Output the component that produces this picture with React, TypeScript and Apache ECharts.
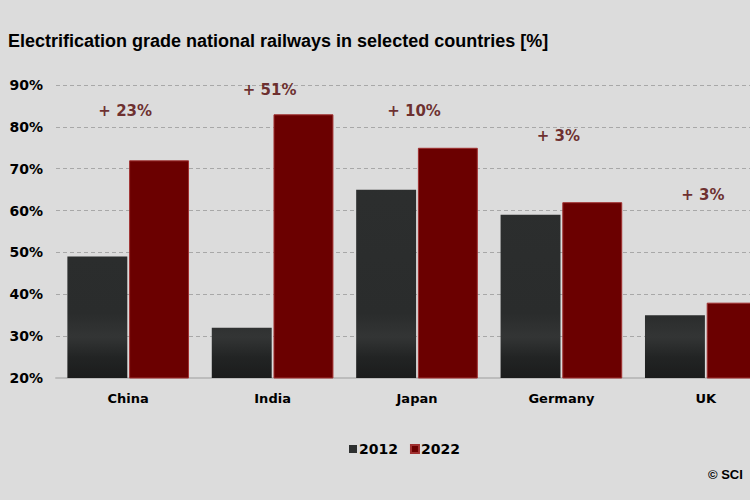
import React, { useEffect, useRef } from "react";
import * as echarts from "echarts";

// Share of electrified national railway network, percent
const countries = ["China", "India", "Japan", "Germany", "UK"];
const share2012 = [49, 32, 65, 59, 35];
const share2022 = [72, 83, 75, 62, 38];
// Height (in % units) at which each change annotation sits
const annotationLevel = [84, 89, 84, 78, 64];
const yTicks = [20, 30, 40, 50, 60, 70, 80, 90];

const TITLE_FONT = "'Liberation Sans', Arial, Helvetica, sans-serif";
const FONT = "'DejaVu Sans', Verdana, sans-serif";

export default function App() {
  const ref = useRef<HTMLDivElement>(null);

  useEffect(() => {
    if (!ref.current) return;
    const chart = echarts.init(ref.current, null, { renderer: "svg" });

    // Shared vertical shading for the 2012 columns (absolute to the plot area)
    const darkFill = new echarts.graphic.LinearGradient(
      0, 85, 0, 378,
      [
        { offset: 0, color: "#2e3030" },
        { offset: 0.78, color: "#2a2c2c" },
        { offset: 0.86, color: "#333535" },
        { offset: 0.93, color: "#222424" },
        { offset: 1, color: "#1b1c1c" },
      ],
      true
    );

    chart.setOption({
      animation: false,
      backgroundColor: "#dcdcdc",
      textStyle: { fontFamily: FONT },
      title: {
        text: "Electrification grade national railways in selected countries [%]",
        left: 3,
        top: 27,
        textStyle: { fontFamily: TITLE_FONT, fontSize: 18, fontWeight: "bold", color: "#000" },
      },
      // The last category runs past the right edge of the canvas
      grid: { left: 56, width: 722, top: 85, bottom: 122, outerBoundsMode: "none", containLabel: false },
      legend: {
        data: ["2012", "2022"],
        left: 344,
        top: 437,
        icon: "rect",
        itemWidth: 8,
        itemHeight: 8,
        itemGap: 12,
        textStyle: { fontFamily: FONT, fontSize: 14, fontWeight: "bold", color: "#000", padding: [0, 0, 0, -3] },
      },
      xAxis: {
        type: "category",
        data: countries,
        axisTick: { show: false },
        axisLine: { show: true, lineStyle: { color: "#bcbcbc", width: 2 } },
        axisLabel: { fontFamily: FONT, fontSize: 13, fontWeight: "bold", color: "#000", margin: 14 },
      },
      yAxis: {
        type: "value",
        min: yTicks[0],
        max: yTicks[yTicks.length - 1],
        interval: 10,
        axisLine: { show: false },
        axisTick: { show: false },
        axisLabel: {
          fontFamily: FONT,
          fontSize: 14,
          fontWeight: "bold",
          color: "#000",
          margin: 13,
          formatter: (v: number) => `${v}%`,
        },
        splitLine: {
          show: true,
          lineStyle: { color: "#a8a8a8", type: [4, 3], width: 1 },
        },
      },
      series: [
        {
          name: "2012",
          type: "bar",
          data: share2012,
          barWidth: "41.5%",
          barGap: "3%",
          itemStyle: { color: darkFill },
          z: 3,
        },
        {
          name: "2022",
          type: "bar",
          data: share2022,
          barWidth: "41.5%",
          barGap: "3%",
          itemStyle: { color: "#6b0000", borderColor: "#a03030", borderWidth: 1 },
          z: 3,
        },
        {
          name: "change",
          type: "scatter",
          data: annotationLevel,
          symbolSize: 0,
          silent: true,
          z: 5,
          label: {
            show: true,
            position: "inside",
            offset: [-3, 1],
            fontFamily: FONT,
            fontSize: 15,
            fontWeight: "bold",
            color: "#500000",
            formatter: (p: any) => `+ ${share2022[p.dataIndex] - share2012[p.dataIndex]}%`,
          },
        },
      ],
      graphic: [
        {
          type: "text",
          left: 708,
          top: 468,
          style: { text: "© SCI", fontFamily: TITLE_FONT, fontSize: 13, fontWeight: "bold", fill: "#000" },
        },
      ],
    });

    return () => chart.dispose();
  }, []);

  return (
    <div
      ref={ref}
      style={{ position: "fixed", left: 0, top: 0, width: 750, height: 500 }}
    />
  );
}
